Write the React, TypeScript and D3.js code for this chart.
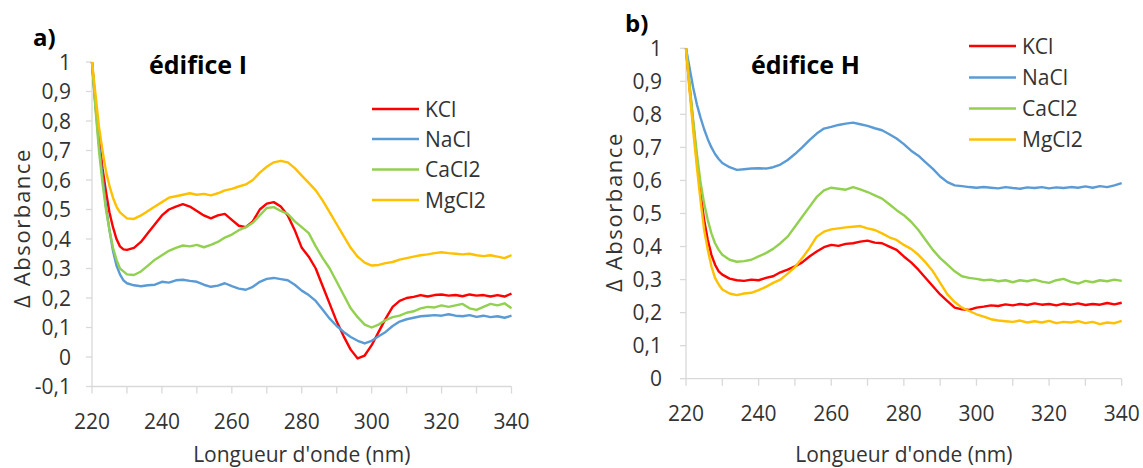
import React from "react";
import * as d3 from "d3";

// Wavelengths (nm) shared by every series
const WAVELENGTHS = [
  220, 221, 222, 223, 224, 225, 226, 227, 228, 229, 230,
  232, 234, 236, 238, 240, 242, 244, 246, 248, 250,
  252, 254, 256, 258, 260, 262, 264, 266, 268, 270,
  272, 274, 276, 278, 280, 282, 284, 286, 288, 290,
  292, 294, 296, 298, 300, 302, 304, 306, 308, 310,
  312, 314, 316, 318, 320, 322, 324, 326, 328, 330,
  332, 334, 336, 338, 340,
];

// ---- Panel a) édifice I ----
const A_KCL = [
  1.0, 0.86, 0.74, 0.64, 0.56, 0.49, 0.44, 0.4, 0.375, 0.365, 0.363,
  0.37, 0.39, 0.42, 0.45, 0.48, 0.5, 0.51, 0.518, 0.51, 0.495,
  0.48, 0.47, 0.48, 0.485, 0.465, 0.445, 0.44, 0.46, 0.5, 0.52,
  0.525, 0.51, 0.48, 0.43, 0.37, 0.34, 0.3, 0.24, 0.18, 0.12,
  0.07, 0.025, -0.005, 0.005, 0.04, 0.085, 0.13, 0.17, 0.19, 0.2,
  0.204, 0.21, 0.205, 0.21, 0.212, 0.208, 0.21, 0.206, 0.212, 0.208,
  0.21, 0.205, 0.21, 0.205, 0.215,
];
const A_NACL = [
  1.0, 0.85, 0.72, 0.61, 0.51, 0.43, 0.36, 0.31, 0.28, 0.26, 0.25,
  0.243, 0.24, 0.243, 0.245, 0.255, 0.252, 0.26, 0.262, 0.258, 0.255,
  0.245, 0.238, 0.242, 0.25, 0.24, 0.232, 0.228, 0.238, 0.255, 0.265,
  0.268, 0.264, 0.26, 0.245, 0.225, 0.21, 0.19, 0.16, 0.13, 0.105,
  0.085, 0.068, 0.055, 0.046, 0.055, 0.07, 0.085, 0.105, 0.12, 0.128,
  0.133, 0.138, 0.14, 0.142, 0.14, 0.145, 0.14, 0.138, 0.142, 0.136,
  0.14, 0.135, 0.138, 0.133, 0.14,
];
const A_CACL2 = [
  1.0, 0.84, 0.7, 0.59, 0.5, 0.43, 0.37, 0.33, 0.3, 0.29, 0.28,
  0.278, 0.29, 0.31, 0.33, 0.345, 0.36, 0.37, 0.378, 0.375, 0.38,
  0.372, 0.38, 0.39, 0.405, 0.415, 0.43, 0.44, 0.455, 0.48, 0.505,
  0.508, 0.495, 0.485, 0.46, 0.44, 0.42, 0.375, 0.335, 0.3, 0.255,
  0.21, 0.165, 0.135, 0.11, 0.1, 0.11, 0.125, 0.135, 0.14, 0.15,
  0.155, 0.165, 0.17, 0.168, 0.175, 0.17, 0.175, 0.18, 0.165, 0.16,
  0.17, 0.18, 0.175, 0.182, 0.165,
];
const A_MGCL2 = [
  1.0, 0.89, 0.78, 0.7, 0.63, 0.58, 0.54, 0.51, 0.49, 0.48, 0.47,
  0.468, 0.48, 0.495, 0.51, 0.525, 0.54, 0.545, 0.55, 0.555, 0.55,
  0.553, 0.548, 0.555, 0.565, 0.57, 0.578, 0.585, 0.6, 0.625, 0.645,
  0.66, 0.665, 0.66, 0.64, 0.615, 0.59, 0.565, 0.53, 0.49, 0.45,
  0.41, 0.37, 0.34, 0.32, 0.31, 0.312, 0.318, 0.322, 0.33, 0.335,
  0.34, 0.345, 0.348, 0.352, 0.355, 0.352, 0.35, 0.348, 0.35, 0.345,
  0.342, 0.345, 0.34, 0.335, 0.345,
];

// ---- Panel b) édifice H ----
const B_KCL = [
  1.0, 0.88, 0.77, 0.66, 0.56, 0.48, 0.42, 0.375, 0.345, 0.325, 0.315,
  0.303, 0.298, 0.296, 0.3, 0.298, 0.305, 0.31, 0.322, 0.33, 0.34,
  0.352, 0.37, 0.385, 0.398, 0.405, 0.402, 0.408, 0.41, 0.415, 0.418,
  0.412, 0.41, 0.4, 0.39, 0.37, 0.352, 0.33, 0.305, 0.28, 0.255,
  0.235, 0.215, 0.21, 0.208, 0.215, 0.218, 0.222, 0.22, 0.225, 0.222,
  0.226, 0.223, 0.228, 0.224, 0.226, 0.222, 0.227, 0.224, 0.228, 0.223,
  0.226, 0.224, 0.229, 0.225, 0.23,
];
const B_NACL = [
  1.0, 0.94, 0.88, 0.83, 0.79, 0.755, 0.725, 0.7, 0.68, 0.665, 0.653,
  0.64, 0.632, 0.634, 0.636, 0.637, 0.636, 0.64, 0.648, 0.662, 0.68,
  0.7, 0.722, 0.742, 0.757, 0.762, 0.768, 0.772, 0.775, 0.77, 0.765,
  0.758, 0.752, 0.74, 0.727, 0.71, 0.69, 0.675, 0.655, 0.635, 0.612,
  0.595, 0.585, 0.583, 0.58, 0.578, 0.58, 0.578, 0.576, 0.58, 0.577,
  0.575, 0.579, 0.577, 0.58, 0.576, 0.579, 0.577, 0.58, 0.578, 0.582,
  0.578, 0.583, 0.58, 0.585, 0.592,
];
const B_CACL2 = [
  1.0, 0.89, 0.78, 0.68, 0.595, 0.53, 0.48, 0.44, 0.41, 0.39, 0.375,
  0.36, 0.354, 0.356, 0.36, 0.37, 0.38, 0.393, 0.41, 0.43, 0.46,
  0.49, 0.52, 0.55, 0.57, 0.578, 0.575, 0.572, 0.58, 0.573, 0.565,
  0.555, 0.545, 0.528, 0.51, 0.495, 0.475, 0.45, 0.42, 0.39, 0.365,
  0.345, 0.325, 0.31, 0.305, 0.302, 0.298, 0.3, 0.295, 0.298, 0.292,
  0.298, 0.295, 0.3, 0.294, 0.29, 0.298, 0.302, 0.293, 0.288, 0.296,
  0.292, 0.298, 0.295, 0.3, 0.296,
];
const B_MGCL2 = [
  1.0, 0.87, 0.75, 0.64, 0.54, 0.45, 0.39, 0.34, 0.305, 0.285, 0.27,
  0.258, 0.253, 0.258, 0.26, 0.268, 0.278, 0.29, 0.3, 0.318, 0.338,
  0.365, 0.395, 0.43, 0.445, 0.452, 0.455, 0.458, 0.46, 0.462, 0.455,
  0.45, 0.44, 0.428, 0.42, 0.405, 0.393, 0.375, 0.352, 0.325, 0.29,
  0.255, 0.232, 0.215, 0.205, 0.195, 0.188, 0.18, 0.176, 0.174, 0.172,
  0.176, 0.17, 0.174, 0.17, 0.175, 0.168, 0.172, 0.17, 0.174, 0.168,
  0.172, 0.165, 0.17, 0.168, 0.175,
];

const SERIES_NAMES = ["KCl", "NaCl", "CaCl2", "MgCl2"];
const SERIES_COLORS = ["#FF0000", "#5B9BD5", "#92D050", "#FFC000"];

const X_TICKS = [220, 240, 260, 280, 300, 320, 340];
const X_MINOR = [220, 230, 240, 250, 260, 270, 280, 290, 300, 310, 320, 330, 340];
const A_Y_TICKS = [-0.1, 0, 0.1, 0.2, 0.3, 0.4, 0.5, 0.6, 0.7, 0.8, 0.9, 1];
const B_Y_TICKS = [0, 0.1, 0.2, 0.3, 0.4, 0.5, 0.6, 0.7, 0.8, 0.9, 1];

const FONT = "'Open Sans', 'Liberation Sans', sans-serif";
const AXIS_COLOR = "#D9D9D9";
const LABEL_COLOR = "#333333";

const fmt = (v: number) => {
  const r = Math.round(v * 10) / 10;
  return String(r).replace(".", ",");
};

type PanelProps = {
  series: number[][];
  yDomain: [number, number];
  yTicks: number[];
  xRange: [number, number];
  yRange: [number, number];
  tag: string;
  tagPos: [number, number];
  title: string;
  titlePos: [number, number];
  legendX: number;
  legendY: number[];
  yLabelRight: number;
  xLabelBaseline: number;
  yTitlePos: [number, number];
};

function Panel(p: PanelProps) {
  const x = d3.scaleLinear().domain([220, 340]).range(p.xRange);
  const y = d3.scaleLinear().domain(p.yDomain).range(p.yRange);
  const line = d3
    .line<number>()
    .x((_, i) => x(WAVELENGTHS[i]))
    .y((d) => y(d));
  const axisY = y(p.yDomain[0]);
  return (
    <g>
      {/* axes */}
      <line x1={x(220)} x2={x(220)} y1={y(p.yDomain[1])} y2={axisY} stroke={AXIS_COLOR} strokeWidth={1.3} />
      <line x1={x(220)} x2={x(340)} y1={axisY} y2={axisY} stroke={AXIS_COLOR} strokeWidth={1.3} />
      {p.yTicks.map((t) => (
        <g key={"y" + t}>
          <line x1={x(220) - 6} x2={x(220)} y1={y(t)} y2={y(t)} stroke={AXIS_COLOR} strokeWidth={1.3} />
          <text
            x={p.yLabelRight}
            y={y(t)}
            dy="0.36em"
            textAnchor="end"
            fontSize={21}
            fontFamily={FONT}
            fill={LABEL_COLOR}
          >
            {fmt(t)}
          </text>
        </g>
      ))}
      {X_MINOR.map((t) => (
        <line key={"xm" + t} x1={x(t)} x2={x(t)} y1={axisY} y2={axisY + 7} stroke={AXIS_COLOR} strokeWidth={1.3} />
      ))}
      {X_TICKS.map((t) => (
        <text
          key={"x" + t}
          x={x(t)}
          y={p.xLabelBaseline}
          textAnchor="middle"
          fontSize={21}
          fontFamily={FONT}
          fill={LABEL_COLOR}
        >
          {t}
        </text>
      ))}
      {/* axis titles */}
      <text
        x={(p.xRange[0] + p.xRange[1]) / 2}
        y={462}
        textAnchor="middle"
        fontSize={21}
        fontFamily={FONT}
        fill={LABEL_COLOR}
      >
        Longueur d'onde (nm)
      </text>
      <text
        transform={`translate(${p.yTitlePos[0]},${p.yTitlePos[1]}) rotate(-90)`}
        textAnchor="middle"
        dy="0.36em"
        fontSize={22}
        letterSpacing={1.6}
        fontFamily={FONT}
        fill={LABEL_COLOR}
      >
        Δ Absorbance
      </text>
      {/* series */}
      {p.series.map((s, i) => (
        <path
          key={SERIES_NAMES[i]}
          d={line(s) || ""}
          fill="none"
          stroke={SERIES_COLORS[i]}
          strokeWidth={2.4}
          strokeLinejoin="round"
        />
      ))}
      {/* legend */}
      {SERIES_NAMES.map((n, i) => (
        <g key={"lg" + n}>
          <line
            x1={p.legendX}
            x2={p.legendX + 47}
            y1={p.legendY[i]}
            y2={p.legendY[i]}
            stroke={SERIES_COLORS[i]}
            strokeWidth={2.6}
          />
          <text
            x={p.legendX + 53}
            y={p.legendY[i]}
            dy="0.36em"
            fontSize={21}
            fontFamily={FONT}
            fill={LABEL_COLOR}
          >
            {n}
          </text>
        </g>
      ))}
      {/* tags and titles */}
      <text x={p.tagPos[0]} y={p.tagPos[1]} fontSize={24} fontWeight="bold" fontFamily={FONT} fill="#000">
        {p.tag}
      </text>
      <text x={p.titlePos[0]} y={p.titlePos[1]} fontSize={25} fontWeight="bold" fontFamily={FONT} fill="#000">
        {p.title}
      </text>
    </g>
  );
}

export default function App() {
  return (
    <svg
      width={1143}
      height={468}
      style={{ position: "absolute", left: 0, top: 0, background: "#fff" }}
    >
      <rect width={1143} height={468} fill="#fff" />
      <Panel
        series={[A_KCL, A_NACL, A_CACL2, A_MGCL2]}
        yDomain={[-0.1, 1]}
        yTicks={A_Y_TICKS}
        xRange={[92, 511.5]}
        yRange={[386.5, 62]}
        tag="a)"
        tagPos={[33, 46]}
        title="édifice I"
        titlePos={[149, 74]}
        legendX={372}
        legendY={[109, 139, 169.5, 200]}
        yLabelRight={71}
        xLabelBaseline={429}
        yTitlePos={[22, 228]}
      />
      <Panel
        series={[B_KCL, B_NACL, B_CACL2, B_MGCL2]}
        yDomain={[0, 1]}
        yTicks={B_Y_TICKS}
        xRange={[686, 1121.7]}
        yRange={[378.7, 48.3]}
        tag="b)"
        tagPos={[625, 32]}
        title="édifice H"
        titlePos={[751, 74]}
        legendX={969}
        legendY={[46, 77.5, 108.5, 139.5]}
        yLabelRight={662}
        xLabelBaseline={421}
        yTitlePos={[614, 212]}
      />
    </svg>
  );
}
